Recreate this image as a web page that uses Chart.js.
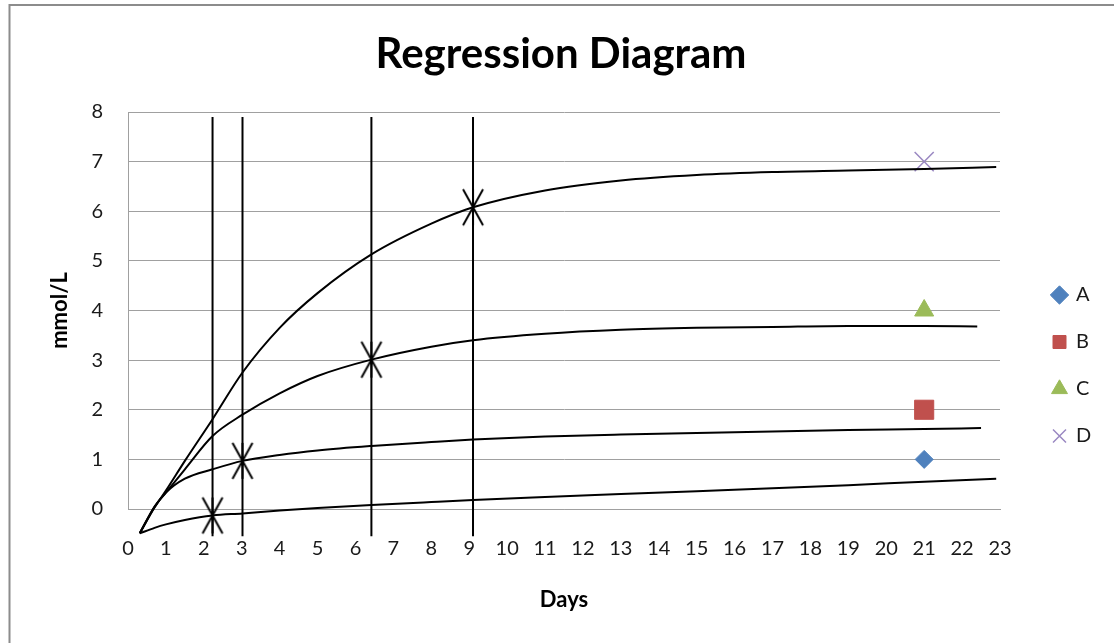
<!DOCTYPE html>
<html>
<head>
<meta charset="utf-8">
<title>Regression Diagram</title>
<script src="https://cdn.jsdelivr.net/npm/chart.js@4.4.1/dist/chart.umd.min.js"></script>
<style>
  html, body { margin: 0; padding: 0; background: #fff; }
  canvas { display: block; }
</style>
</head>
<body>
<canvas id="grafico" width="1114" height="643"></canvas>
<script>
// regression curves, sampled at these days
var diasCurva = [0.31, 0.7, 1.0, 1.5, 2.23, 3.02, 4, 5, 6.42, 8, 9.1, 11, 13, 15, 17, 19, 21];
var curva1 = [-0.49, -0.38, -0.31, -0.22, -0.13, -0.09, -0.03, 0.02, 0.08, 0.14, 0.18, 0.24, 0.30, 0.36, 0.42, 0.48, 0.55];
var curva2 = [-0.49, 0.04, 0.33, 0.61, 0.80, 0.97, 1.09, 1.18, 1.27, 1.35, 1.40, 1.46, 1.50, 1.53, 1.56, 1.59, 1.61];
var curva3 = [-0.49, 0.05, 0.33, 0.80, 1.47, 1.90, 2.33, 2.68, 3.01, 3.27, 3.40, 3.53, 3.61, 3.65, 3.67, 3.69, 3.69];
var curva4 = [-0.49, 0.03, 0.37, 0.97, 1.81, 2.75, 3.65, 4.35, 5.13, 5.75, 6.08, 6.42, 6.62, 6.73, 6.79, 6.82, 6.85];
// where each curve stops
var finDia = [22.9, 22.5, 22.4, 22.9];
var finValor = [0.61, 1.63, 3.68, 6.89];

// marked points with their vertical guide lines
var marcaDia = [2.23, 3.02, 6.42, 9.1];
var marcaValor = [-0.13, 0.97, 3.01, 6.08];
var guiaDesde = -0.55;
var guiaHasta = 7.9;

// samples
var series = ['A', 'B', 'C', 'D'];
var serieDia = [21, 21, 21, 21];
var serieValor = [1, 2, 4, 7];

var diasMax = 23;
var mmolMax = 8;

var colores = ['#4F81BD', '#C0504D', '#9BBB59', '#9A88C2'];
var formas = ['rectRot', 'rect', 'triangle', 'crossRot'];
var radios = [9, 13.5, 11, 13.5];

Chart.defaults.font.family = 'Lato';

function puntos(xs, ys){
  var out = [];
  for (var i = 0; i < xs.length; i++) out.push({x: xs[i], y: ys[i]});
  return out;
}

// asterisk marker used on the curves
function crearEstrella(){
  var c = document.createElement('canvas');
  c.width = 24; c.height = 40;
  var g = c.getContext('2d');
  g.strokeStyle = '#000';
  g.lineWidth = 2;
  g.beginPath();
  g.moveTo(2, 2); g.lineTo(22, 38);
  g.moveTo(22, 2); g.lineTo(2, 38);
  g.moveTo(12, 2); g.lineTo(12, 38);
  g.stroke();
  return c;
}

function armarDatasets(){
  var ds = [];
  var curvas = [curva1, curva2, curva3, curva4];
  for (var i = 0; i < curvas.length; i++) {
    var d = puntos(diasCurva, curvas[i]);
    d.push({x: finDia[i], y: finValor[i]});
    ds.push({
      label: 'curva' + (i + 1), data: d,
      borderColor: '#000', borderWidth: 2, pointRadius: 0,
      cubicInterpolationMode: 'monotone', fill: false, clip: false
    });
  }
  for (var j = 0; j < marcaDia.length; j++) {
    ds.push({
      label: 'guia' + (j + 1),
      data: [{x: marcaDia[j], y: guiaDesde}, {x: marcaDia[j], y: guiaHasta}],
      borderColor: '#000', borderWidth: 2, pointRadius: 0, fill: false, clip: false
    });
  }
  ds.push({
    label: 'marcas', data: puntos(marcaDia, marcaValor), showLine: false,
    pointStyle: crearEstrella(), pointRadius: 10, clip: false
  });
  for (var k = 0; k < series.length; k++) {
    ds.push({
      label: series[k], data: [{x: serieDia[k], y: serieValor[k]}], showLine: false,
      pointStyle: formas[k], pointRadius: radios[k],
      backgroundColor: colores[k], borderColor: colores[k],
      pointBackgroundColor: colores[k], pointBorderColor: colores[k],
      pointBorderWidth: k == 3 ? 1.5 : 1
    });
  }
  return ds;
}

// outer frame, and puts the legend beside the plot
var marco = {
  id: 'marco',
  afterLayout: function(chart){
    var lg = chart.legend;
    lg.left += 26; lg.right += 26;
    lg.top += 44; lg.bottom += 44;
  },
  beforeDraw: function(chart){
    var ctx = chart.ctx;
    ctx.save();
    ctx.strokeStyle = '#8c8c8c';
    ctx.lineWidth = 2;
    ctx.beginPath();
    ctx.moveTo(9.5, chart.height);
    ctx.lineTo(9.5, 5);
    ctx.lineTo(chart.width, 5);
    ctx.stroke();
    ctx.restore();
  }
};

var ctx = document.getElementById('grafico');
var grafico = new Chart(ctx, {
  type: 'line',
  data: { datasets: armarDatasets() },
  plugins: [marco],
  options: {
    responsive: false,
    animation: false,
    layout: { padding: { left: 8, right: 0, top: 0, bottom: 0 } },
    plugins: {
      tooltip: { enabled: false },
      title: {
        display: true, text: 'Regression Diagram', color: '#000',
        font: { size: 42, weight: 'bold' },
        padding: { top: 29, bottom: 32.6 }
      },
      legend: {
        position: 'right',
        labels: {
          usePointStyle: true, boxWidth: 13, boxHeight: 13, padding: 27,
          color: '#1a1a1a', font: { size: 20 },
          filter: function(item){ return series.indexOf(item.text) >= 0; }
        }
      }
    },
    scales: {
      x: {
        type: 'linear', min: 0, max: diasMax,
        ticks: { stepSize: 1, padding: 28, color: '#1a1a1a', font: { size: 20 } },
        grid: { display: false, drawTicks: false },
        border: { display: true, color: '#a0a0a0' },
        title: { display: true, text: 'Days', color: '#000', font: { size: 22, weight: 'bold' }, padding: { top: 0, bottom: 30 } },
        afterFit: function(s){ s.height = 134; s.paddingRight = 114; }
      },
      y: {
        type: 'linear', min: 0, max: mmolMax,
        ticks: { stepSize: 1, padding: 25, color: '#1a1a1a', font: { size: 20 } },
        grid: { color: '#a0a0a0', drawTicks: false },
        border: { display: true, color: '#a0a0a0' },
        title: { display: true, text: 'mmol/L', color: '#000', font: { size: 22, weight: 'bold' }, padding: { top: 39, bottom: 0 } },
        afterFit: function(s){ s.width = 120; }
      }
    }
  }
});
</script>
</body>
</html>
